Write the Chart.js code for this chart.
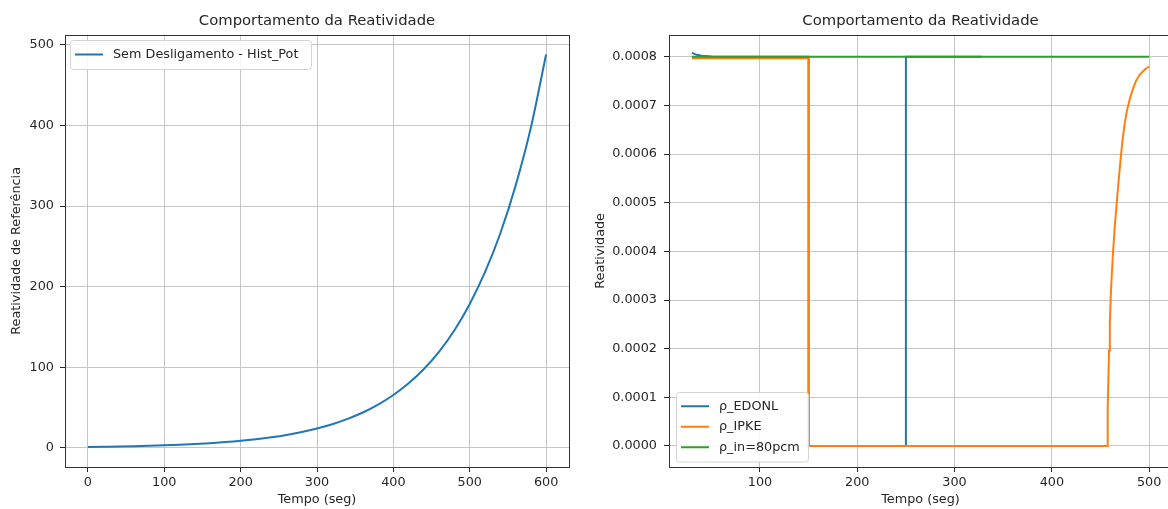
<!DOCTYPE html>
<html>
<head>
<meta charset="utf-8">
<title>Comportamento da Reatividade</title>
<script src="https://cdn.jsdelivr.net/npm/chart.js@4.4.0/dist/chart.umd.min.js"></script>
<style>
  html, body { margin: 0; padding: 0; background: #fff; overflow: hidden; }
  #wrap { position: relative; width: 1168px; height: 509px; }
  canvas { position: absolute; top: 0; }
</style>
</head>
<body>
<div id="wrap">
  <canvas id="histPot" width="584" height="509" style="left:0"></canvas>
  <canvas id="rho" width="590" height="509" style="left:584px"></canvas>
</div>
<script>
// --- painel esquerdo: sem desligamento ---
const tempoHist = [0, 20, 40, 60, 80, 100, 120, 140, 160, 180, 200, 220, 240, 260, 280, 300,
  320, 340, 360, 380, 400, 420, 440, 460, 480, 500, 520, 540, 560, 580, 600];
const reatHist = [1.2, 1.5, 1.8, 2.2, 2.7, 3.3, 4.0, 4.9, 6.0, 7.3, 8.9, 10.9, 13.3, 16.2, 19.8, 24.2,
  29.5, 36.1, 44.0, 53.8, 65.7, 80.2, 98.0, 119.6, 146.0, 178.6, 218.0, 266.0, 325.0, 397.0, 488.0];
const xTicksHist = [0, 100, 200, 300, 400, 500, 600];
const yTicksHist = [0, 100, 200, 300, 400, 500];

// --- painel direito: reatividades ---
const tEdonl = [30, 35, 40, 50, 60, 150, 150, 250, 250, 328];
const rhoEdonl = [0.000808, 0.000804, 0.000802, 0.0008005, 0.0008, 0.0008, 0, 0, 0.0008, 0.0008];
const tIpke = [30, 150, 150, 457.3, 457.4, 458.1, 458.8, 459.6, 460.5, 461.6, 462.9, 464.5, 466.4,
  468.4, 470.5, 472.6, 474.9, 477.3, 480.0, 483.3, 486.9, 490.2, 493.6, 496.8, 500.0];
const rhoIpke = [0.000797, 0.000797, 0, 0, 0.000076, 0.000137, 0.000196, 0.000252, 0.000305, 0.000352,
  0.000398, 0.000446, 0.000493, 0.00054, 0.000586, 0.000628, 0.000663, 0.00069, 0.000712, 0.000734,
  0.000752, 0.000763, 0.00077, 0.000776, 0.00078];
const tIn = [30, 500];
const rhoIn = [0.0008, 0.0008];
const xTicksRho = [100, 200, 300, 400, 500];
const yTicksRho = [0, 0.0001, 0.0002, 0.0003, 0.0004, 0.0005, 0.0006, 0.0007, 0.0008];

const FONT = 'DejaVu Sans';
const INK = '#262626';
const GRID = '#c6c6c6';
const SZ = 12.8;

const pts = (xs, ys) => xs.map((x, i) => ({ x: x, y: ys[i] }));

// moldura completa do eixo (4 lados)
const frame = {
  id: 'frame',
  afterDatasetsDraw(chart) {
    const { ctx, chartArea: a } = chart;
    ctx.save();
    ctx.strokeStyle = '#333';
    ctx.lineWidth = 1;
    ctx.strokeRect(Math.round(a.left) + 0.5, Math.round(a.top) + 0.5,
      Math.round(a.right - a.left), Math.round(a.bottom - a.top));
    ctx.restore();
  }
};

// legenda dentro da área do gráfico
const boxLegend = {
  id: 'boxLegend',
  afterDraw(chart, args, opts) {
    const { ctx } = chart;
    const items = chart.data.datasets;
    const h = items.length * opts.rowH + 8;
    ctx.save();
    ctx.fillStyle = 'rgba(255,255,255,0.85)';
    ctx.strokeStyle = '#d4d4d4';
    ctx.lineWidth = 1;
    ctx.beginPath();
    ctx.roundRect(opts.x + 0.5, opts.y + 0.5, opts.w, h, 3);
    ctx.fill();
    ctx.stroke();
    ctx.font = SZ + 'px "' + FONT + '"';
    ctx.textBaseline = 'middle';
    items.forEach((ds, i) => {
      const cy = opts.y + 4 + opts.rowH * (i + 0.5);
      ctx.strokeStyle = ds.borderColor;
      ctx.lineWidth = 2;
      ctx.beginPath();
      ctx.moveTo(opts.x + 5, cy);
      ctx.lineTo(opts.x + 33, cy);
      ctx.stroke();
      ctx.fillStyle = INK;
      ctx.fillText(ds.label, opts.x + 43, cy);
    });
    ctx.restore();
  }
};

function xAxis(min, max, ticks) {
  return {
    type: 'linear', min: min, max: max,
    afterBuildTicks: s => { s.ticks = ticks.map(v => ({ value: v })); },
    afterFit: s => { s.height = 42; },
    border: { display: false },
    grid: { color: GRID, lineWidth: 1, tickLength: 5, tickColor: INK },
    ticks: { font: { family: FONT, size: SZ }, color: INK, padding: 3, maxRotation: 0, autoSkip: false },
    title: { display: true, text: 'Tempo (seg)', font: { family: FONT, size: SZ }, color: INK, padding: { top: 0, bottom: 1.3 } }
  };
}

function yAxis(min, max, ticks, label, width, pad, fmt) {
  return {
    type: 'linear', min: min, max: max,
    afterBuildTicks: s => { s.ticks = ticks.map(v => ({ value: v })); },
    afterFit: s => { s.width = width; },
    border: { display: false },
    grid: { color: GRID, lineWidth: 1, tickLength: 5, tickColor: INK },
    ticks: { font: { family: FONT, size: SZ }, color: INK, padding: pad, autoSkip: false, callback: fmt },
    title: { display: true, text: label, font: { family: FONT, size: SZ }, color: INK, padding: { top: 9.3, bottom: 0 } }
  };
}

function titleOpts() {
  return {
    display: true, text: 'Comportamento da Reatividade', fullSize: false,
    font: { family: FONT, size: 14.8, weight: 'normal' }, color: INK,
    padding: { top: 12, bottom: 5 }
  };
}

new Chart(document.getElementById('histPot'), {
  type: 'line',
  data: {
    datasets: [{
      label: 'Sem Desligamento - Hist_Pot',
      data: pts(tempoHist, reatHist),
      borderColor: '#1f77b4', borderWidth: 2, pointRadius: 0,
      cubicInterpolationMode: 'monotone', fill: false
    }]
  },
  options: {
    responsive: false, animation: false,
    layout: { padding: { left: 0, right: 15, top: 0, bottom: 0 } },
    scales: {
      x: xAxis(-30, 630, xTicksHist),
      y: yAxis(-23.6, 512.4, yTicksHist, 'Reatividade de Referência', 65, 6, v => String(v))
    },
    plugins: {
      legend: { display: false },
      tooltip: { enabled: false },
      title: titleOpts(),
      boxLegend: { x: 70, y: 40, w: 241, rowH: 21 }
    }
  },
  plugins: [frame, boxLegend]
});

new Chart(document.getElementById('rho'), {
  type: 'line',
  data: {
    datasets: [
      { label: 'ρ_EDONL', data: pts(tEdonl, rhoEdonl), borderColor: '#1f77b4', order: 2 },
      { label: 'ρ_IPKE', data: pts(tIpke, rhoIpke), borderColor: '#ff7f0e', order: 1 },
      { label: 'ρ_in=80pcm', data: pts(tIn, rhoIn), borderColor: '#2ca02c', order: 0 }
    ].map(d => Object.assign({ borderWidth: 2, pointRadius: 0, fill: false, tension: 0 }, d))
  },
  options: {
    responsive: false, animation: false,
    layout: { padding: { left: 0, right: 2, top: 0, bottom: 0 } },
    scales: {
      x: xAxis(6.5, 523.5, xTicksRho),
      y: yAxis(-0.0000432, 0.0008452, yTicksRho, 'Reatividade', 85, 7, v => v.toFixed(4))
    },
    plugins: {
      legend: { display: false },
      tooltip: { enabled: false },
      title: titleOpts(),
      boxLegend: { x: 92, y: 392, w: 132, rowH: 20.5 }
    }
  },
  plugins: [frame, boxLegend]
});
</script>
</body>
</html>
